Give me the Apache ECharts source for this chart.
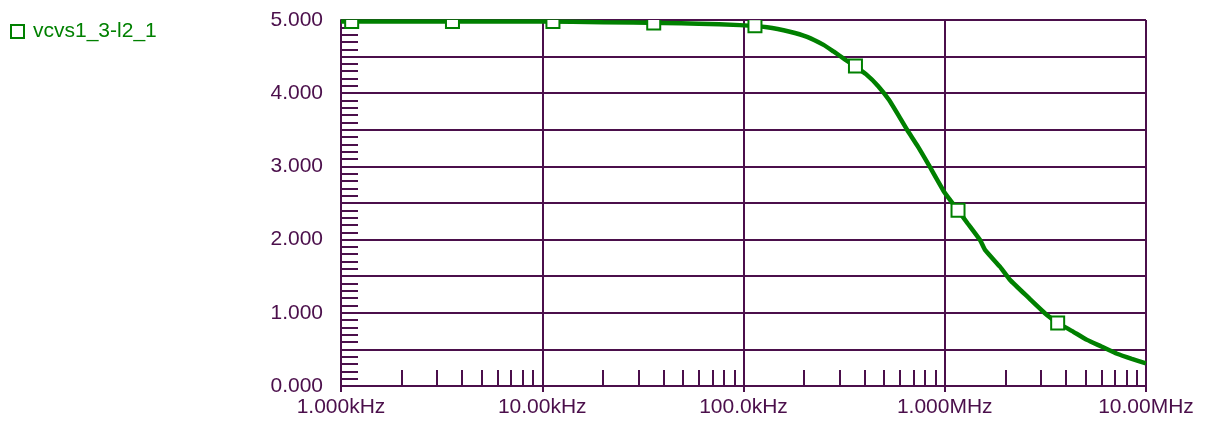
<!DOCTYPE html>
<html>
<head>
<meta charset="utf-8">
<script src="https://cdn.jsdelivr.net/npm/echarts@6/dist/echarts.min.js"></script>
<style>
html,body{margin:0;padding:0;background:#fff;}
#chart{width:1206px;height:423px;}
</style>
</head>
<body>
<div id="chart"></div>
<script>
// ---- data ----
const seriesName = 'vcvs1_3-l2_1';
const curveFreq = [1000, 3000, 10000, 20000, 40000, 60000, 96000, 131000, 170000, 207000, 250000, 280000, 320000, 362000, 406000, 466000, 528000, 600000, 650000, 736000, 845000, 1000000, 1164000, 1300000, 1500000, 1585000, 1880000, 2110000, 2600000, 3220000, 3660000, 4300000, 5090000, 6000000, 7180000, 8500000, 10000000];
const curveVal  = [4.98, 4.98, 4.98, 4.97, 4.96, 4.95, 4.93, 4.90, 4.84, 4.77, 4.66, 4.57, 4.46, 4.36, 4.26, 4.10, 3.91, 3.66, 3.50, 3.27, 2.99, 2.64, 2.40, 2.22, 1.99, 1.86, 1.63, 1.45, 1.21, 0.97, 0.86, 0.75, 0.63, 0.54, 0.44, 0.37, 0.31];
const markerFreq = [1130, 3580, 11300, 35800, 114000, 360000, 1164000, 3640000];
const markerVal  = [4.98, 4.98, 4.98, 4.96, 4.92, 4.37, 2.40, 0.86];
const xTickValues = [1e3, 1e4, 1e5, 1e6, 1e7];
const xTickLabels = ['1.000kHz', '10.00kHz', '100.0kHz', '1.000MHz', '10.00MHz'];
const yTickValues = [0, 1, 2, 3, 4, 5];
const yTickLabels = ['0.000', '1.000', '2.000', '3.000', '4.000', '5.000'];
const xMinorTickMultipliers = [2, 3, 4, 5, 6, 7, 8, 9];
const xMinorTickDecades = [1e3, 1e4, 1e5, 1e6];

// ---- style ----
const PURPLE = '#4B0F4B';
const GREEN = '#008000';
const FONT = 'Liberation Sans, Arial, sans-serif';

const minorTickLines = [];
xMinorTickDecades.forEach(d => {
  xMinorTickMultipliers.forEach(m => {
    minorTickLines.push([{ coord: [d * m, 0] }, { coord: [d * m, 0.22] }]);
  });
});

const chart = echarts.init(document.getElementById('chart'), null, { renderer: 'canvas' });
chart.setOption({
  animation: false,
  backgroundColor: '#fff',
  grid: { left: 341, right: 60, top: 20, bottom: 37, containLabel: false },
  legend: {
    left: 10, top: 21, padding: 0, orient: 'vertical',
    itemWidth: 13, itemHeight: 13,
    data: [{ name: seriesName, icon: 'rect', itemStyle: { color: '#fff', borderColor: GREEN, borderWidth: 2 } }],
    textStyle: { color: GREEN, fontSize: 21, fontFamily: FONT, padding: [0, 0, 0, 4] }
  },
  xAxis: {
    type: 'log', logBase: 10, min: 1e3, max: 1e7,
    axisLine: { show: true, lineStyle: { color: PURPLE, width: 2 } },
    axisTick: { show: true, inside: false, length: 6, lineStyle: { color: PURPLE, width: 2 } },
    splitLine: { show: true, showMinLine: true, showMaxLine: true, lineStyle: { color: PURPLE, width: 2 } },
    axisLabel: {
      show: true, showMinLabel: true, showMaxLabel: true, margin: 11,
      color: PURPLE, fontSize: 21, fontFamily: FONT,
      formatter: function (v) {
        for (let i = 0; i < xTickValues.length; i++) {
          if (Math.abs(Math.log10(v) - Math.log10(xTickValues[i])) < 1e-6) return xTickLabels[i];
        }
        return '';
      }
    }
  },
  yAxis: {
    type: 'value', min: 0, max: 5, interval: 0.5,
    axisLine: { show: true, lineStyle: { color: PURPLE, width: 2 } },
    axisTick: { show: true, inside: true, length: 17, lineStyle: { color: PURPLE, width: 2 } },
    minorTick: { show: true, splitNumber: 5, length: 17, lineStyle: { color: PURPLE, width: 2 } },
    splitLine: { show: true, showMinLine: true, showMaxLine: true, lineStyle: { color: PURPLE, width: 2 } },
    axisLabel: {
      show: true, margin: 18, color: PURPLE, fontSize: 21, fontFamily: FONT,
      formatter: function (v) {
        for (let i = 0; i < yTickValues.length; i++) {
          if (Math.abs(v - yTickValues[i]) < 1e-6) return yTickLabels[i];
        }
        return '';
      }
    }
  },
  series: [
    {
      name: seriesName,
      type: 'line',
      data: curveFreq.map((f, i) => [f, curveVal[i]]),
      showSymbol: false,
      symbol: 'none',
      smooth: 0.15,
      clip: true,
      z: 3,
      lineStyle: { color: GREEN, width: 4.5 },
      itemStyle: { color: GREEN },
      markLine: {
        silent: true,
        symbol: ['none', 'none'],
        label: { show: false },
        emphasis: { disabled: true },
        lineStyle: { color: PURPLE, width: 2, type: 'solid' },
        data: minorTickLines
      }
    },
    {
      name: seriesName,
      type: 'custom',
      clip: true,
      z: 4,
      data: markerFreq.map((f, i) => [f, markerVal[i]]),
      renderItem: function (params, api) {
        const p = api.coord([api.value(0), api.value(1)]);
        const s = 13;
        return {
          type: 'rect',
          shape: { x: p[0] - s / 2, y: p[1] - s / 2, width: s, height: s },
          style: { fill: '#fff', stroke: GREEN, lineWidth: 2 }
        };
      },
      itemStyle: { color: GREEN }
    }
  ]
});
</script>
</body>
</html>
